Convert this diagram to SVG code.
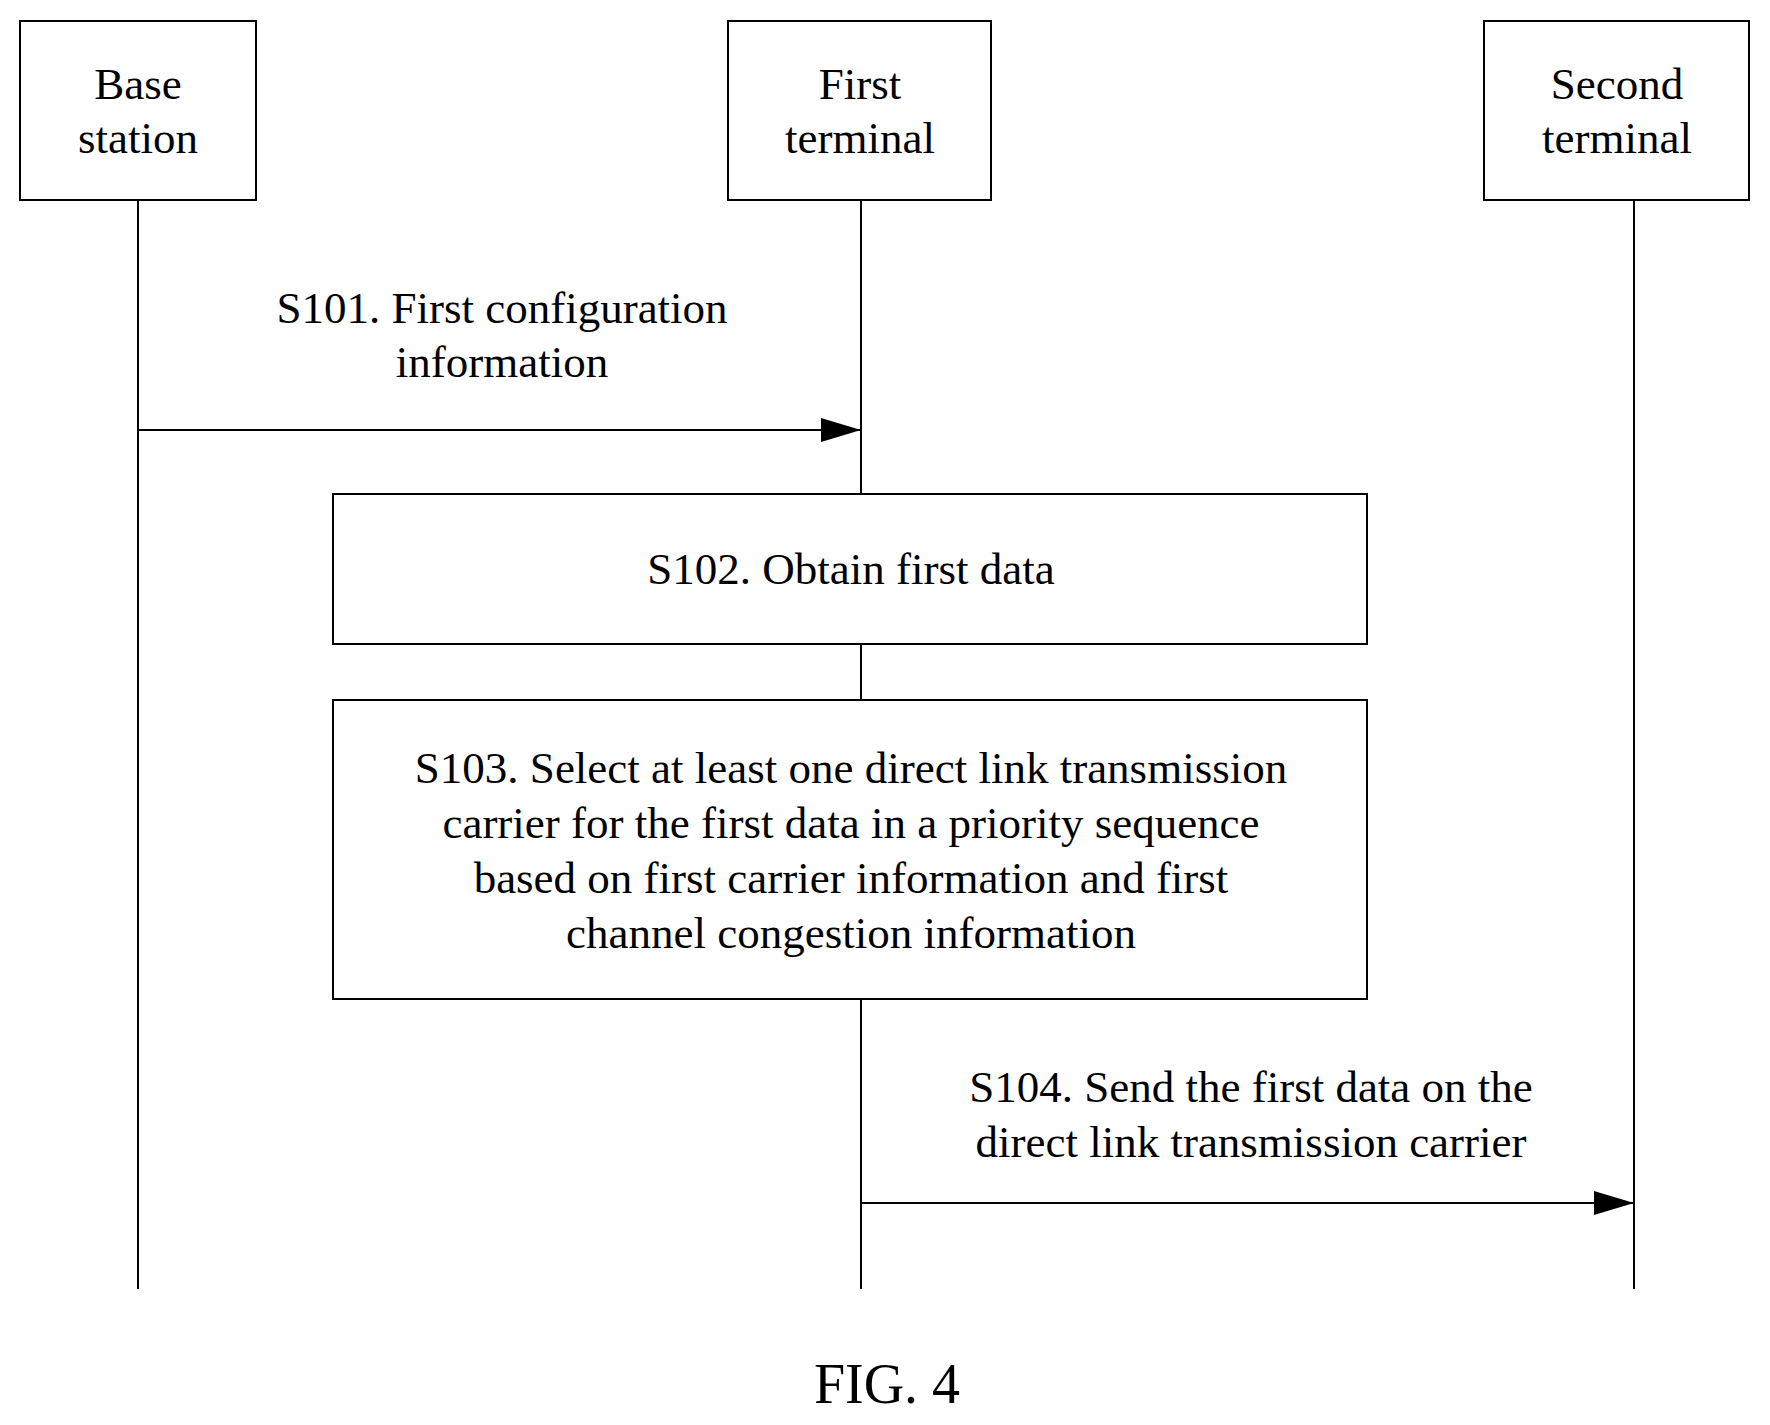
<svg xmlns="http://www.w3.org/2000/svg" width="1770" height="1425" viewBox="0 0 1770 1425">
<style>
text{font-family:"Liberation Serif",serif;font-size:45px;fill:#000;text-anchor:middle}
.b{fill:#fff;stroke:#000;stroke-width:2}
.l{stroke:#000;stroke-width:2;fill:none}
</style>
<defs><marker id="a" markerWidth="40" markerHeight="24" refX="40" refY="12" orientation="auto" markerUnits="userSpaceOnUse"><path d="M0,0L40,12L0,24z" fill="#000"/></marker></defs>
<g id="connectors">
<line class="l" x1="138" y1="200" x2="138" y2="1289"/>
<line class="l" x1="861" y1="200" x2="861" y2="1289"/>
<line class="l" x1="1634" y1="200" x2="1634" y2="1289"/>
<line class="l" x1="138" y1="430" x2="861" y2="430" marker-end="url(#a)"/>
<line class="l" x1="861" y1="1203" x2="1634" y2="1203" marker-end="url(#a)"/>
</g>
<g id="base"><rect class="b" x="20" y="21" width="236" height="179"/><text x="138" y="99">Base</text><text x="138" y="153">station</text></g>
<g id="first"><rect class="b" x="728" y="21" width="263" height="179"/><text x="860" y="99">First</text><text x="860" y="153">terminal</text></g>
<g id="second"><rect class="b" x="1484" y="21" width="265" height="179"/><text x="1617" y="99">Second</text><text x="1617" y="153">terminal</text></g>
<g id="s101"><text x="502" y="323">S101. First configuration</text><text x="502" y="377">information</text></g>
<g id="s102"><rect class="b" x="333" y="494" width="1034" height="150"/><text x="851" y="584">S102. Obtain first data</text></g>
<g id="s103"><rect class="b" x="333" y="700" width="1034" height="299"/>
<text x="851" y="783">S103. Select at least one direct link transmission</text>
<text x="851" y="838">carrier for the first data in a priority sequence</text>
<text x="851" y="893">based on first carrier information and first</text>
<text x="851" y="948">channel congestion information</text></g>
<g id="s104"><text x="1251" y="1102">S104. Send the first data on the</text><text x="1251" y="1157">direct link transmission carrier</text></g>
<text x="887" y="1403" style="font-size:56px">FIG. 4</text>
</svg>
